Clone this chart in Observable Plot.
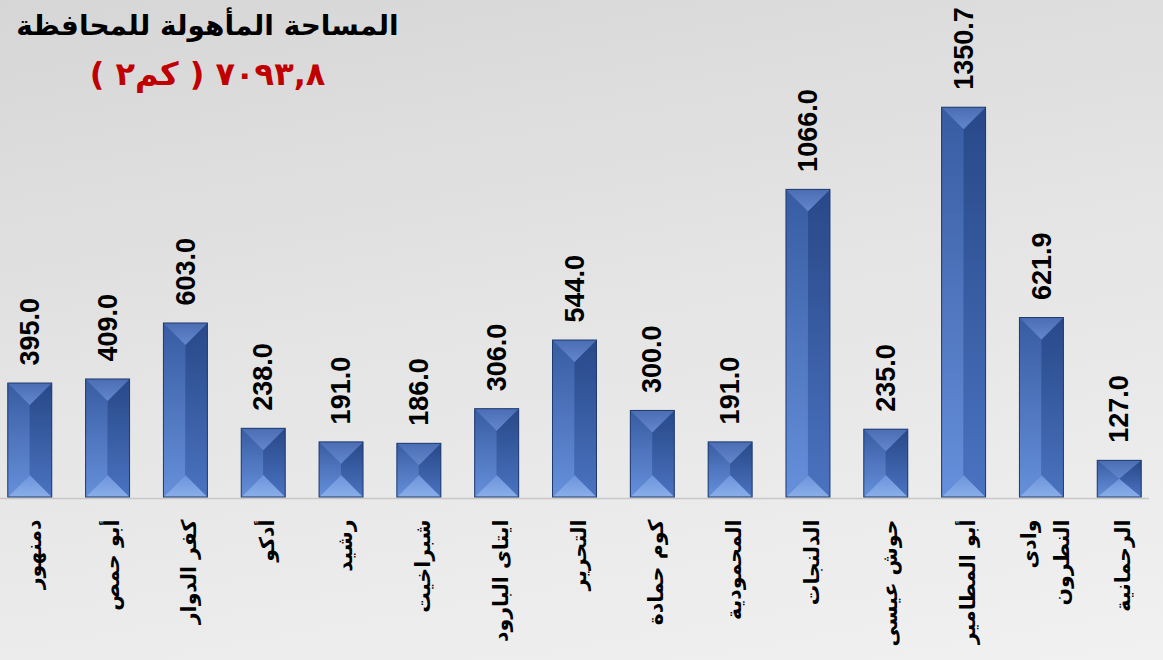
<!DOCTYPE html>
<html lang="ar">
<head>
<meta charset="utf-8">
<script src="https://cdn.jsdelivr.net/npm/d3@7"></script>
<script src="https://cdn.jsdelivr.net/npm/@observablehq/plot@0.6"></script>
<style>
  html, body { margin: 0; padding: 0; }
  body {
    width: 1163px; height: 660px; overflow: hidden; position: relative;
    background: linear-gradient(170deg, #d6d6d6 0%, #e4e4e4 45%, #f1f1f1 100%);
  }
  #title {
    position: absolute; left: 0; top: 6px; width: 415px;
    direction: rtl; text-align: center;
    font-family: "DejaVu Sans", sans-serif; font-weight: bold;
  }
  #title .l1 { font-size: 28px; color: #000; line-height: 40px; }
  #title .l2 { font-size: 32px; color: #c00000; line-height: 48px; margin-top: 4px; }
  #title .num { letter-spacing: 10px; }
  #chart { position: absolute; left: 0; top: 0; }
</style>
</head>
<body>
<div id="chart"></div>
<div id="title">
  <div class="l1">المساحة المأهولة للمحافظة</div>
  <div class="l2"><span class="num">٧٠٩٣,٨</span> ( كم٢ )</div>
</div>
<script>
const categories = [
  "دمنهور", "أبو حمص", "كفر الدوار", "أدكو", "رشيد", "شبراخيت",
  "ايتاى البارود", "التحرير", "كوم حمادة", "المحمودية", "الدلنجات",
  "حوش عيسى", "أبو المطامير", "وادى\nالنطرون", "الرحمانية"
];
const values = [395.0, 409.0, 603.0, 238.0, 191.0, 186.0, 306.0, 544.0, 300.0, 191.0, 1066.0, 235.0, 1350.7, 621.9, 127.0];

const data = categories.map((c, i) => ({category: c, value: values[i]}));

function bevelRender(index, scales, vals, dims, ctx, next) {
  const g = next(index, scales, vals, dims, ctx);
  const ns = "http://www.w3.org/2000/svg";
  const defs = document.createElementNS(ns, "defs");
  const grads = {
    gTop: ["#4b6db3", "#6386cc"],
    gBot: ["#6c94dc", "#8aaee9"],
    gL: ["#385ca2", "#6690db"],
    gR: ["#284888", "#4a73c0"]
  };
  for (const [id, [c0, c1]] of Object.entries(grads)) {
    const lg = document.createElementNS(ns, "linearGradient");
    lg.setAttribute("id", id);
    lg.setAttribute("x1", "0"); lg.setAttribute("y1", "0");
    lg.setAttribute("x2", "0"); lg.setAttribute("y2", "1");
    const s0 = document.createElementNS(ns, "stop");
    s0.setAttribute("offset", "0"); s0.setAttribute("stop-color", c0);
    const s1 = document.createElementNS(ns, "stop");
    s1.setAttribute("offset", "1"); s1.setAttribute("stop-color", c1);
    lg.appendChild(s0); lg.appendChild(s1);
    defs.appendChild(lg);
  }
  g.insertBefore(defs, g.firstChild);
  const rects = Array.from(g.querySelectorAll("rect"));
  for (const r of rects) {
    const x = +r.getAttribute("x"), y = +r.getAttribute("y");
    const w = +r.getAttribute("width"), h = +r.getAttribute("height");
    const d = Math.min(w / 2, h / 2);
    const cx = x + w / 2;
    const facets = [
      [[[x, y], [cx, y + d], [cx, y + h - d], [x, y + h]], "url(#gL)"],
      [[[x + w, y], [cx, y + d], [cx, y + h - d], [x + w, y + h]], "url(#gR)"],
      [[[x, y], [x + w, y], [cx, y + d]], "url(#gTop)"],
      [[[x, y + h], [x + w, y + h], [cx, y + h - d]], "url(#gBot)"]
    ];
    for (const [pts, fill] of facets) {
      const p = document.createElementNS(ns, "polygon");
      p.setAttribute("points", pts.map(q => q.join(",")).join(" "));
      p.setAttribute("fill", fill);
      r.parentNode.appendChild(p);
    }
    const o = document.createElementNS(ns, "rect");
    o.setAttribute("x", x); o.setAttribute("y", y);
    o.setAttribute("width", w); o.setAttribute("height", h);
    o.setAttribute("fill", "none");
    o.setAttribute("stroke", "#1f3a6e");
    o.setAttribute("stroke-width", "1");
    r.parentNode.appendChild(o);
  }
  return g;
}

const chart = Plot.plot({
  width: 1163,
  height: 660,
  marginTop: 93,
  marginBottom: 163,
  marginLeft: 0,
  marginRight: 14,
  style: {background: "transparent", overflow: "visible"},
  x: {domain: categories, paddingInner: 0.435, paddingOuter: 0.1, round: false, axis: null},
  y: {domain: [0, 1400], axis: null},
  marks: [
    Plot.ruleY([0], {stroke: "#c8c8c8", strokeWidth: 1.5, dy: 1}),
    Plot.barY(data, {x: "category", y: "value", fill: "#3f64aa", render: bevelRender}),
    Plot.text(data, {
      x: "category", y: "value", text: d => d.value.toFixed(1),
      rotate: -90, textAnchor: "start", dy: -18,
      fontSize: 27, fontWeight: "bold", fill: "#000",
      fontFamily: "Liberation Sans, Arial, sans-serif"
    }),
    Plot.text(data, {
      x: "category", text: "category", frameAnchor: "bottom",
      rotate: -90, textAnchor: "end", lineAnchor: "middle", dy: 22,
      lineHeight: 1.6,
      fontSize: 20.5, fontWeight: "bold", fill: "#000",
      fontFamily: "DejaVu Sans, sans-serif"
    })
  ]
});
document.getElementById("chart").appendChild(chart);
</script>
</body>
</html>
